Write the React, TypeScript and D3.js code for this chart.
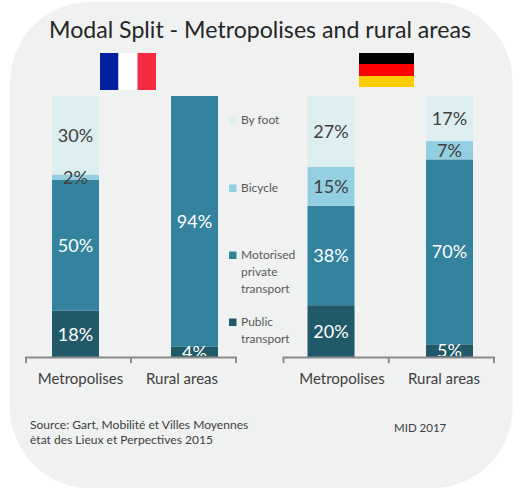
import React from "react";
import * as d3 from "d3";

const title = "Modal Split - Metropolises and rural areas";
const areas = ["Metropolises", "Rural areas"];
const modes = ["Public transport", "Motorised private transport", "Bicycle", "By foot"];
const franceMetropolises = [18, 50, 2, 30];
const franceRural = [4, 94, 0, 0];
const germanyMetropolises = [20, 38, 15, 27];
const germanyRural = [5, 70, 7, 17];
const legendLines = [["By foot"], ["Bicycle"], ["Motorised", "private", "transport"], ["Public", "transport"]];
const legendModes = ["By foot", "Bicycle", "Motorised private transport", "Public transport"];
const sourceLines = ["Source: Gart, Mobilité et Villes Moyennes", "ètat des Lieux et Perpectives 2015"];
const note = "MID 2017";

const FONT = "Lato, 'Open Sans', sans-serif";
const colors = d3.scaleOrdinal<string, string>().domain(modes).range(["#225968", "#33839f", "#93cfe0", "#dceeef"]);
const y = d3.scaleLinear().domain([0, 1]).range([357.5, 96]);

function rows(a: number[], b: number[]) {
  return areas.map((area, i) => {
    const values = i === 0 ? a : b;
    const r: Record<string, any> = { area };
    modes.forEach((m, k) => (r[m] = values[k]));
    return r;
  });
}
const stack = d3.stack<any>().keys(modes).offset(d3.stackOffsetExpand);

const panels = [
  { id: "fr", data: rows(franceMetropolises, franceRural), bars: [75.5, 194.5], axis: [26, 236], labels: [80.5, 182] },
  { id: "de", data: rows(germanyMetropolises, germanyRural), bars: [331, 449.5], axis: [283.5, 494], labels: [342, 444] },
];

function Panel({ p }: { p: (typeof panels)[number] }) {
  const series = stack(p.data);
  const barX = d3.scalePoint<string>().domain(areas).range(p.bars as [number, number]);
  const axisX = d3.scaleBand<string>().domain(areas).range(p.axis as [number, number]);
  const labelX = d3.scalePoint<string>().domain(areas).range(p.labels as [number, number]);
  const w = 47;
  return (
    <g>
      {series.map((s) =>
        s.map((d, i) => {
          const v = (d.data as any)[s.key];
          if (!v) return null;
          return (
            <rect key={s.key + i} x={barX(areas[i])! - w / 2} width={w} y={y(d[1])} height={y(d[0]) - y(d[1])} fill={colors(s.key)} />
          );
        })
      )}
      <g clipPath="url(#plotClip)">
        {series.map((s) =>
          s.map((d, i) => {
            const v = (d.data as any)[s.key];
            if (!v) return null;
            const light = s.key === "Bicycle" || s.key === "By foot";
            return (
              <text key={s.key + i} x={barX(areas[i])!} y={(y(d[0]) + y(d[1])) / 2 + 6.6} textAnchor="middle" fontSize={18} fill={light ? "#404040" : "#ffffff"}>
                {v}%
              </text>
            );
          })
        )}
      </g>
      <path d={`M${p.axis[0]},363V357.5H${p.axis[1]}V363M${axisX(areas[1])},357.5V363`} fill="none" stroke="#8c8c8c" strokeWidth={2} />
      {areas.map((a) => (
        <text key={a} x={labelX(a)} y={384} textAnchor="middle" fontSize={15} fill="#404040">
          {a}
        </text>
      ))}
    </g>
  );
}

export default function App() {
  const legendY = [120, 188, 255, 322];
  return (
    <svg width={515} height={488} style={{ position: "fixed", left: 0, top: 0, display: "block", background: "#fff" }} fontFamily={FONT}>
      <defs>
        <clipPath id="plotClip">
          <rect x={0} y={0} width={515} height={356} />
        </clipPath>
      </defs>
      <rect x={10} y={2} width={502.5} height={486} rx={80} ry={80} fill="#f0f1f1" />
      <text x={49} y={38} fontSize={24} textLength={422} lengthAdjust="spacingAndGlyphs" fill="#262626">{title}</text>
      <rect x={100} y={53} width={18.5} height={37} fill="#00209f" />
      <rect x={118.5} y={53} width={19} height={37} fill="#ffffff" />
      <rect x={137.5} y={53} width={18.5} height={37} fill="#f72c42" />
      <rect x={359} y={53} width={55} height={11} fill="#000000" />
      <rect x={359} y={64} width={55} height={12} fill="#fe0000" />
      <rect x={359} y={76} width={55} height={11} fill="#ffcc00" />
      {panels.map((p) => <Panel key={p.id} p={p} />)}
      {legendModes.map((m, i) => (
        <g key={m}>
          <rect x={229} y={legendY[i] - 3.5} width={7.5} height={7.5} fill={colors(m)} />
          {legendLines[i].map((l, k) => (
            <text key={l} x={241} y={legendY[i] + 4 + k * 16.8} fontSize={12} fill="#595959">{l}</text>
          ))}
        </g>
      ))}
      {sourceLines.map((l, i) => (
        <text key={l} x={30} y={428.5 + i * 15.2} fontSize={12.05} fill="#404040">{l}</text>
      ))}
      <text x={394} y={432} fontSize={11.5} fill="#404040">{note}</text>
    </svg>
  );
}
